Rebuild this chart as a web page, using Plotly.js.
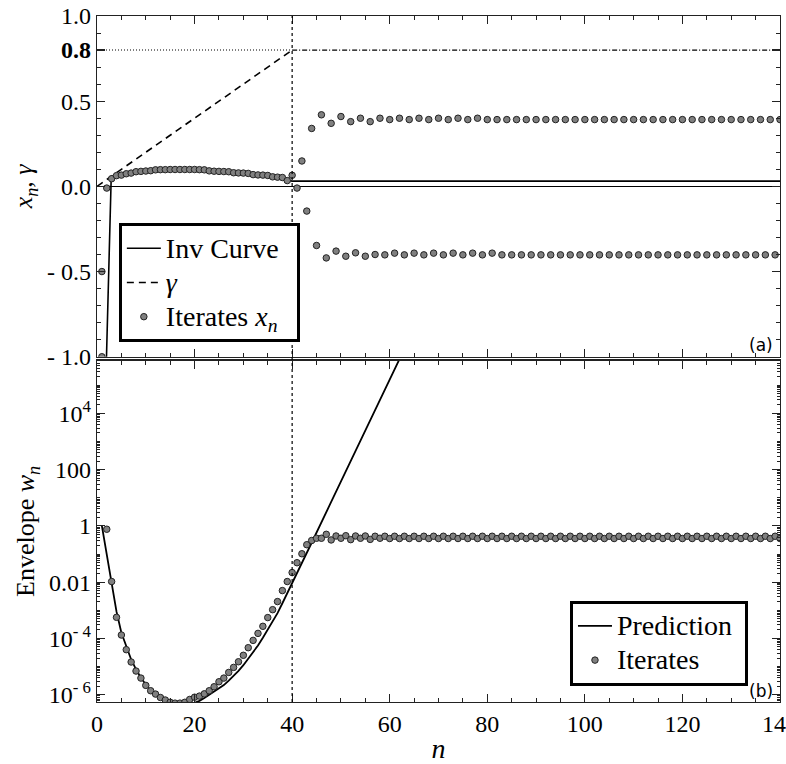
<!DOCTYPE html>
<html><head><meta charset="utf-8">
<script src="https://cdn.plot.ly/plotly-3.0.1.min.js"></script>
<style>body{margin:0;background:#fff}#chart{width:786px;height:764px}</style>
</head><body><div id="chart"></div>
<script>
// ---------- data (panel a) ----------
const nStart = [1, 1];
const xStart = [-1.0, -0.5];
// iterates x_n for n = 2 .. 140
const xIter = [
 -0.010,0.045,0.063,0.066,0.074,0.078,0.086,0.088,0.090,0.092,
 0.097,0.098,0.098,0.099,0.099,0.099,0.099,0.099,0.099,0.098,
 0.097,0.091,0.089,0.088,0.087,0.086,0.080,0.079,0.078,0.076,
 0.069,0.067,0.066,0.064,0.056,0.054,0.052,0.034,0.065,-0.010,
 0.149,-0.145,0.340,-0.347,0.420,-0.420,0.370,-0.380,0.410,-0.410,
 0.380,-0.390,0.400,-0.410,0.380,-0.400,
 0.400,-0.402,0.392,-0.392,0.400,-0.402,0.392,-0.392,0.400,-0.402,
 0.392,-0.392,0.400,-0.402,0.392,-0.392,0.400,-0.402,0.392,-0.392,
 0.400,-0.402,0.392,-0.392,0.392,-0.402,
 0.392,-0.402,0.392,-0.402,0.392,-0.402,0.392,-0.402,0.392,-0.402,
 0.392,-0.402,0.392,-0.402,0.392,-0.402,0.392,-0.402,0.392,-0.402,
 0.392,-0.402,0.392,-0.402,0.392,-0.402,0.392,-0.402,0.392,-0.402,
 0.392,-0.402,0.392,-0.402,0.392,-0.402,0.392,-0.402,0.392,-0.402,
 0.392,-0.402,0.392,-0.402,0.392,-0.402,0.392,-0.402,0.392,-0.402,
 0.392,-0.402,0.392,-0.402,0.392,-0.402,0.392
];
const invN = [1.9, 2.9, 4, 8, 12, 16, 20, 24, 28, 32, 36, 39, 40, 140];
const invX = [-1.05, 0.04, 0.058, 0.082, 0.093, 0.097, 0.097, 0.088, 0.078, 0.066, 0.052, 0.035, 0.031, 0.031];
const gammaN = [0, 40];
const gammaV = [0, 0.8];
const gammaConstN = [40, 140];
const gammaConstV = [0.8, 0.8];
const refN = [0, 40];
const refV = [0.8, 0.8];
const nSwitch = 40;

// ---------- data (panel b) ----------
// envelope w_n for n = 2 .. 140
const wIter = [
 0.759,1.05e-2,5.62e-4,1.32e-4,3.98e-5,1.45e-5,6.92e-6,3.89e-6,2.14e-6,1.38e-6,
 1.05e-6,7.94e-7,6.46e-7,5.37e-7,5.01e-7,5.01e-7,5.37e-7,6.76e-7,8.13e-7,8.91e-7,
 1.07e-6,1.38e-6,1.91e-6,2.88e-6,3.89e-6,6.17e-6,9.33e-6,1.48e-5,2.51e-5,4.68e-5,
 8.51e-5,1.51e-4,2.69e-4,5.50e-4,1.05e-3,2.04e-3,5.01e-3,1.05e-2,2.19e-2,4.90e-2,
 0.102,0.214,0.302,0.363,0.363,0.501,0.316,0.437,0.363,0.447,
 0.324,0.437,0.363,0.437,0.331,0.427,0.363,0.427,
 0.355,0.427,0.355,0.427,0.355,0.427,0.355,0.427,0.355,0.427,
 0.355,0.427,0.355,0.427,0.355,0.427,0.355,0.427,0.355,0.427,
 0.355,0.427,0.355,0.427,0.355,0.427,0.355,0.427,0.355,0.427,
 0.355,0.427,0.355,0.427,0.355,0.427,0.355,0.427,0.355,0.427,
 0.355,0.427,0.355,0.427,0.355,0.427,0.355,0.427,0.355,0.427,
 0.355,0.427,0.355,0.427,0.355,0.427,0.355,0.427,0.355,0.427,
 0.355,0.427,0.355,0.427,0.355,0.427,0.355,0.427,0.355,0.427,
 0.355,0.427,0.355,0.427,0.355,0.427,0.355,0.427,0.355,0.427,
 0.355
];
const predN = [1,1.5,2,2.5,3,3.5,4,5,6,7,8,9,10,11,12,13,14,15,16,17,18,19,20,21,22,23,24,25,26,27,28,29,30,31,32,33,34,35,36,37,38,39,40,44,48,52,56,60,64];
const predW = [1,0.316,0.0891,0.0251,7.94e-3,2.51e-3,8.91e-4,1.58e-4,5.01e-5,1.78e-5,7.94e-6,3.98e-6,2.29e-6,1.41e-6,1.0e-6,7.08e-7,5.37e-7,4.47e-7,3.98e-7,3.98e-7,4.17e-7,4.47e-7,5.13e-7,6.03e-7,7.59e-7,1.0e-6,1.32e-6,1.66e-6,2.19e-6,3.16e-6,4.68e-6,7.08e-6,1.12e-5,1.86e-5,3.16e-5,5.62e-5,1.05e-4,2.0e-4,3.98e-4,7.94e-4,1.78e-3,3.98e-3,9.33e-3,0.251,7.08,200,5620,1.58e5,4.47e6];

// tick labels
const xTickVals = [0,20,40,60,80,100,120,140];
const xTickText = ['0','20','40','60','80','100','120','140'];
const yTopVals = [-1,-0.5,0,0.5,0.8,1];
const yTopText = ['- 1.0','- 0.5','0.0','0.5','<b>0.8</b>','1.0'];
const yBotVals = [1e-6,1e-4,1e-2,1,100,1e4];
const yBotText = ['10<sup>- 6</sup>','10<sup>- 4</sup>','0.01','1','100','10<sup>4</sup>'];

// ---------- build ----------
const nIter = [];
for (let i = 0; i < xIter.length; i++) nIter.push(i + 2);
const nW = [];
for (let i = 0; i < wIter.length; i++) nW.push(i + 2);

const dotMarker = {size: 6.5, color: '#808080', line: {color: '#222', width: 1}};
const serif = '"Liberation Serif", "Times New Roman", serif';
const big = s => '<span style="font-size:28px">' + s + '</span>';

const traces = [
  {x: invN, y: invX, xaxis: 'x', yaxis: 'y', mode: 'lines', name: big('Inv Curve'),
   line: {color: '#000', width: 1.6}, legend: 'legend'},
  {x: gammaN, y: gammaV, xaxis: 'x', yaxis: 'y', mode: 'lines', name: big('<i>γ</i>'),
   line: {color: '#000', width: 1.6, dash: '7px,5px'}, legend: 'legend'},
  {x: gammaConstN, y: gammaConstV, xaxis: 'x', yaxis: 'y', mode: 'lines', showlegend: false,
   line: {color: '#000', width: 1.2, dash: '5px,2px,1px,2px'}},
  {x: refN, y: refV, xaxis: 'x', yaxis: 'y', mode: 'lines', showlegend: false,
   line: {color: '#000', width: 1.1, dash: '1px,2px'}},
  {x: nStart.concat(nIter), y: xStart.concat(xIter), xaxis: 'x', yaxis: 'y', mode: 'markers',
   name: big('Iterates <i>x<sub>n</sub></i>&nbsp;&nbsp;'), marker: dotMarker, legend: 'legend'},
  {x: predN, y: predW, xaxis: 'x2', yaxis: 'y2', mode: 'lines', name: big('Prediction&nbsp;'),
   line: {color: '#000', width: 1.8}, legend: 'legend2'},
  {x: nW, y: wIter, xaxis: 'x2', yaxis: 'y2', mode: 'markers', name: big('Iterates'),
   marker: dotMarker, legend: 'legend2'}
];

const axBase = {
  showline: true, linecolor: '#222', linewidth: 1.3, mirror: 'allticks',
  ticks: 'inside', tickcolor: '#222', tickwidth: 1.2, ticklen: 8,
  showgrid: false, zeroline: false, ticklabeloverflow: 'allow',
  tickfont: {family: serif, size: 24, color: '#000'}
};

const layout = {
  width: 786, height: 764,
  margin: {l: 97, r: 6, t: 16, b: 62},
  paper_bgcolor: '#fff', plot_bgcolor: '#fff',
  font: {family: serif, color: '#000'},
  xaxis: Object.assign({}, axBase, {
    anchor: 'y', domain: [0, 1], range: [0, 140], showticklabels: false,
    tickmode: 'array', tickvals: xTickVals,
    minor: {dtick: 5, tick0: 0, ticks: 'inside', ticklen: 4, tickcolor: '#222', tickwidth: 1, showgrid: false}
  }),
  yaxis: Object.assign({}, axBase, {
    anchor: 'x', domain: [0.5033, 1], range: [-1, 1],
    tickmode: 'array', tickvals: yTopVals, ticktext: yTopText,
    zeroline: true, zerolinecolor: '#000', zerolinewidth: 1.1,
    minor: {dtick: 0.1, tick0: 0, ticks: 'inside', ticklen: 4, tickcolor: '#222', tickwidth: 1, showgrid: false},
    title: {text: '<i>x<sub>n</sub></i>, <i>γ</i>', font: {family: serif, size: 26, color: '#000'}, standoff: 6}
  }),
  xaxis2: Object.assign({}, axBase, {
    anchor: 'y2', domain: [0, 1], range: [0, 140],
    tickmode: 'array', tickvals: xTickVals, ticktext: xTickText,
    minor: {dtick: 5, tick0: 0, ticks: 'inside', ticklen: 4, tickcolor: '#222', tickwidth: 1, showgrid: false},
    title: {text: '<i>n</i>', font: {family: serif, size: 28, color: '#000'}, standoff: 6}
  }),
  yaxis2: Object.assign({}, axBase, {
    anchor: 'x2', domain: [0, 0.4975], type: 'log', range: [-6.26, 5.87],
    tickmode: 'array', tickvals: yBotVals, ticktext: yBotText,
    minor: {dtick: 'D1', ticks: 'inside', ticklen: 3, tickcolor: '#222', tickwidth: 1, showgrid: false},
    title: {text: 'Envelope <i>w<sub>n</sub></i>', font: {family: serif, size: 26, color: '#000'}, standoff: 6}
  }),
  legend: {
    x: 0.032, y: 0.698, xanchor: 'left', yanchor: 'top', xref: 'paper', yref: 'paper',
    bgcolor: '#fff', bordercolor: '#000', borderwidth: 3, itemwidth: 34,
    font: {family: serif, size: 24, color: '#000'}, tracegroupgap: 0
  },
  legend2: {
    x: 0.6925, y: 0.1475, xanchor: 'left', yanchor: 'top', xref: 'paper', yref: 'paper',
    bgcolor: '#fff', bordercolor: '#000', borderwidth: 3, itemwidth: 34,
    font: {family: serif, size: 24, color: '#000'}, tracegroupgap: 0
  },
  shapes: [
    {type: 'line', xref: 'x', yref: 'paper', x0: nSwitch, x1: nSwitch, y0: 0, y1: 1,
     line: {color: '#000', width: 1.2, dash: 'dot'}}
  ],
  annotations: [
    {text: '(a)', xref: 'paper', yref: 'paper', x: 0.9927, y: 0.5204, xanchor: 'right', yanchor: 'middle',
     showarrow: false, font: {family: '"DejaVu Sans", sans-serif', size: 17, color: '#000'}},
    {text: '(b)', xref: 'paper', yref: 'paper', x: 0.9927, y: 0.0154, xanchor: 'right', yanchor: 'middle',
     showarrow: false, font: {family: '"DejaVu Sans", sans-serif', size: 17, color: '#000'}}
  ]
};

Plotly.newPlot('chart', traces, layout, {displayModeBar: false, staticPlot: true});
</script></body></html>
